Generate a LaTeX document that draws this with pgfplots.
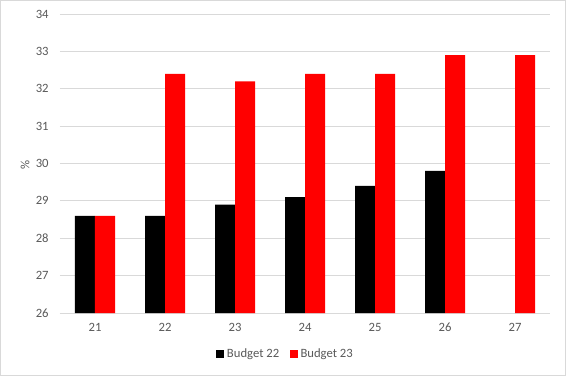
\documentclass[border=0pt]{standalone}
\usepackage{pgfplots}
\pgfplotsset{compat=1.18}
\usepackage{fontspec}
\setmainfont{Carlito}
\definecolor{txt}{HTML}{595959}
\definecolor{grid}{HTML}{D9D9D9}
\definecolor{bred}{HTML}{FF0000}
\begin{document}
\begin{tikzpicture}
\fill[white] (-45pt,-47.25pt) rectangle (379.5pt,234.75pt);
\draw[grid, line width=0.75pt] (-44.625pt,-46.875pt) rectangle (379.125pt,234.375pt);
\begin{axis}[
  scale only axis,
  width=367.5pt, height=224.25pt,
  at={(0,0)}, anchor=south west,
  ybar=0pt, bar width=15pt,
  xmin=-0.5, xmax=6.5,
  ymin=26, ymax=34, ytick={26,...,34},
  xtick={0,...,6}, xticklabels={21,22,23,24,25,26,27},
  axis x line*=bottom, axis y line*=left,
  x axis line style={draw=grid, line width=0.75pt, -},
  y axis line style={draw=none},
  ymajorgrids, xmajorgrids=false,
  major grid style={draw=grid, line width=0.75pt},
  major tick length=0pt,
  tick label style={font=\fontsize{9.5}{10}\selectfont, text=txt},
  /pgf/number format/assume math mode=true,
  yticklabel style={xshift=-5pt},
  xticklabel style={yshift=-4pt},
  ylabel={\%},
  ylabel style={font=\fontsize{9.5}{10}\selectfont, text=txt, at={(axis description cs:-0.071,0.495)}, anchor=center},
  legend style={at={(0.461,-0.137)}, anchor=center, draw=none, fill=none,
    font=\fontsize{9.5}{10}\selectfont, text=txt, legend columns=2,
    /tikz/every even column/.append style={column sep=6pt}},
  legend image code/.code={\fill (0pt,-3pt) rectangle (6pt,3pt);},
]
\addplot[fill=black, draw=none] coordinates {(0,28.6) (1,28.6) (2,28.9) (3,29.1) (4,29.4) (5,29.8)};
\addplot[fill=bred, draw=none] coordinates {(0,28.6) (1,32.4) (2,32.2) (3,32.4) (4,32.4) (5,32.9) (6,32.9)};
\legend{Budget 22, Budget 23}
\end{axis}
\end{tikzpicture}
\end{document}
